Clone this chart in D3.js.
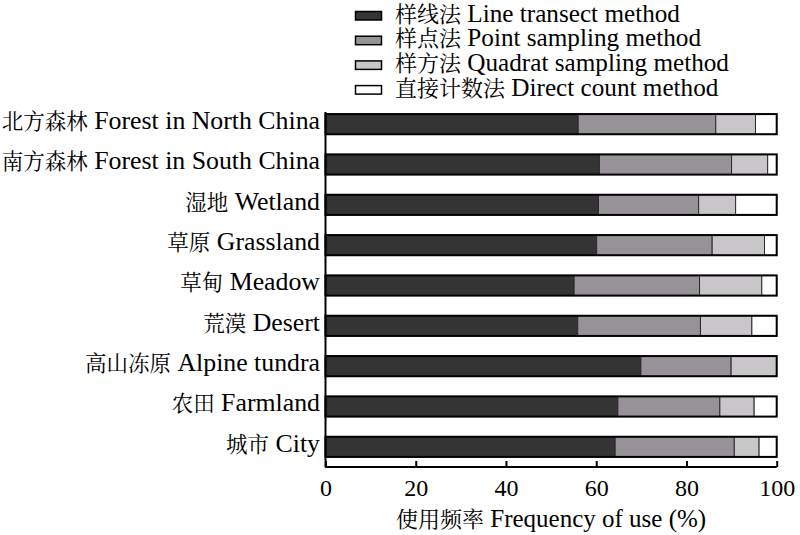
<!DOCTYPE html>
<html><head><meta charset="utf-8">
<script src="https://cdn.jsdelivr.net/npm/d3@7"></script>
<style>body{margin:0;background:#fff}svg{display:block}</style>
</head><body>
<svg id="c" width="800" height="535"></svg>
<script>
const categoriesZh = ["北方森林","南方森林","湿地","草原","草甸","荒漠","高山冻原","农田","城市"];
const categoriesEn = ["Forest in North China","Forest in South China","Wetland","Grassland","Meadow","Desert","Alpine tundra","Farmland","City"];
const lineTransect = [56.0,60.7,60.5,60.1,55.1,55.9,69.9,64.8,64.2];
const pointSampling = [30.5,29.3,22.2,25.6,27.8,27.2,20.0,22.6,26.4];
const quadratSampling = [8.8,8.0,8.2,11.6,13.8,11.4,10.1,7.6,5.5];
const directCount = [4.7,2.0,9.1,2.7,3.3,5.5,0.0,5.0,3.9];
const seriesZh = ["样线法","样点法","样方法","直接计数法"];
const seriesEn = ["Line transect method","Point sampling method","Quadrat sampling method","Direct count method"];
const xTicks = [0,20,40,60,80,100];
const axisZh = "使用频率";
const axisEn = "Frequency of use (%)";

const colors = ["#343434","#979297","#c8c6c9","#ffffff"];
const series = [lineTransect, pointSampling, quadratSampling, directCount];
const svg = d3.select("#c");
const FONT = "'Liberation Serif','Times New Roman',serif";
const CJK = "'Noto Serif CJK SC','Noto Sans CJK SC',serif";

const x = d3.scaleLinear().domain([0,100]).range([325.5,776.7]);
const y = d3.scaleBand().domain(d3.range(categoriesZh.length)).range([104,467]).paddingInner(0.5).paddingOuter(0.25);

function label(sel, zh, en, size, zhSize){
  sel.append("tspan").attr("font-family",CJK).attr("font-size",zhSize).text(zh);
  sel.append("tspan").attr("font-family",FONT).attr("font-size",size).text(" "+en);
}

// bars
const rows = svg.append("g");
categoriesZh.forEach((c,i)=>{
  let acc = 0;
  series.forEach((s,k)=>{
    const v = s[i];
    if (v>0){
      rows.append("rect").attr("x",x(acc)).attr("y",y(i)).attr("width",x(acc+v)-x(acc)).attr("height",y.bandwidth())
        .attr("fill",colors[k]).attr("stroke","#2a2a2a").attr("stroke-width",1);
    }
    acc += v;
  });
  rows.append("rect").attr("x",x(0)).attr("y",y(i)).attr("width",x(100)-x(0)).attr("height",y.bandwidth())
    .attr("fill","none").attr("stroke","#000").attr("stroke-width",2);
  const t = svg.append("text").attr("x",320).attr("y",y(i)+y.bandwidth()/2).attr("dy","0.3em")
    .attr("text-anchor","end").attr("fill","#000");
  label(t, c, categoriesEn[i], 25.8, 21.5);
});

// axes
svg.append("line").attr("x1",x(0)).attr("x2",x(0)).attr("y1",112).attr("y2",467.5).attr("stroke","#000").attr("stroke-width",2);
const xa = svg.append("g").attr("transform","translate(0,467)")
  .call(d3.axisBottom(x).tickValues(xTicks).tickSize(-6).tickPadding(12).tickFormat(d3.format("d")));
xa.select(".domain").attr("d",`M${x(0)},0H${x(100)}`).attr("stroke","#000").attr("stroke-width",2);
xa.selectAll(".tick line").attr("stroke","#000").attr("stroke-width",2);
xa.selectAll(".tick text").attr("font-family",FONT).attr("font-size",24).attr("fill","#000").attr("dy","0.71em");

const at = svg.append("text").attr("x",(x(0)+x(100))/2).attr("y",527).attr("text-anchor","middle").attr("fill","#000");
label(at, axisZh, axisEn, 25, 22);

// legend
seriesZh.forEach((s,k)=>{
  const yb = 21.5 + k*24.7;
  svg.append("rect").attr("x",355.5).attr("y",yb-10).attr("width",26).attr("height",8.5)
    .attr("fill",colors[k]).attr("stroke","#000").attr("stroke-width",1.5);
  const t = svg.append("text").attr("x",395).attr("y",yb).attr("fill","#000");
  label(t, s, seriesEn[k], 25.2, 22);
});
</script>
</body></html>
